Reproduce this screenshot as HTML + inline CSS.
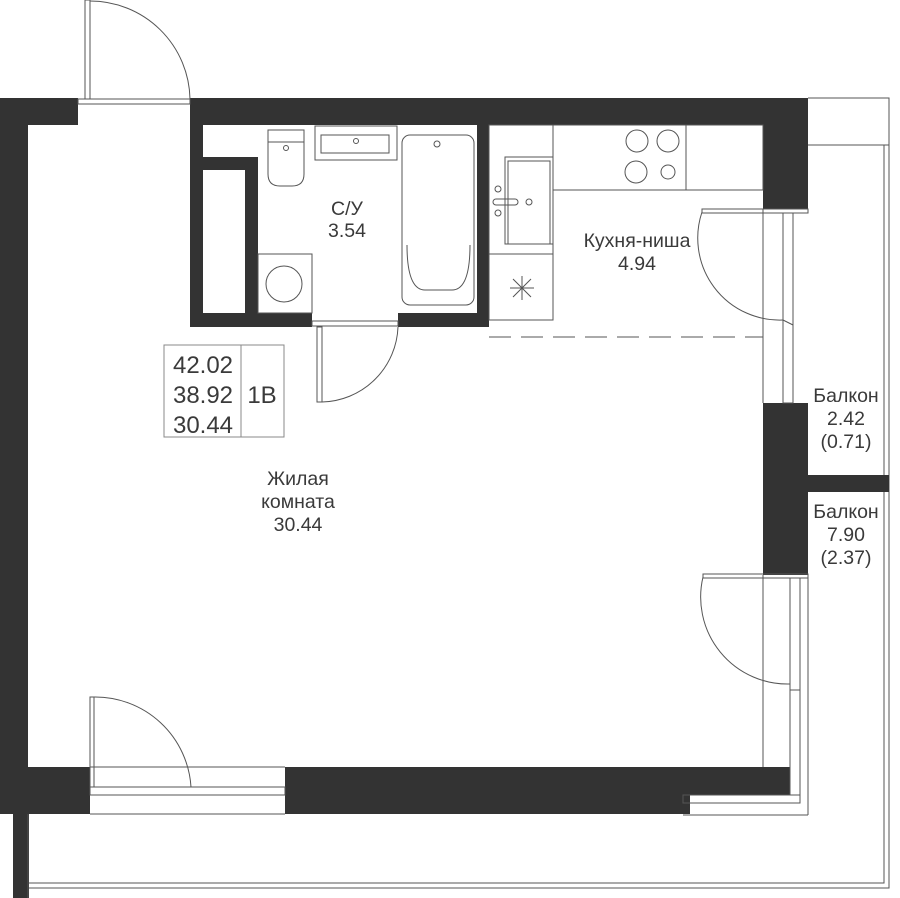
<!DOCTYPE html>
<html><head><meta charset="utf-8"><style>
html,body{margin:0;padding:0;background:#fff;}
svg{display:block}
text{font-family:"Liberation Sans",sans-serif;fill:#3a3a3a;font-size:19.5px;text-anchor:middle}
</style></head><body>
<svg width="900" height="898" viewBox="0 0 900 898" xmlns="http://www.w3.org/2000/svg">
<g fill="none" stroke="#555" stroke-width="1">
<polyline points="808,98 889,98 889,888 28,888"/>
<polyline points="884,145 884,475"/>
<line x1="808" y1="145" x2="889" y2="145"/>
<polyline points="884,492 884,883 28,883"/>
<line x1="808" y1="815" x2="808" y2="575"/>
</g>
<g fill="#333">
<rect x="0" y="98" width="78" height="27"/>
<rect x="190" y="98" width="618" height="27"/>
<rect x="0" y="98" width="28" height="716"/>
<rect x="13" y="814" width="16" height="84"/>
<rect x="0" y="767" width="90" height="47"/>
<rect x="285" y="767" width="505" height="28"/>
<rect x="285" y="795" width="405" height="19"/>
<rect x="763" y="98" width="45" height="111"/>
<rect x="763" y="403" width="45" height="172"/>
<rect x="808" y="475" width="81" height="17"/>
<rect x="190" y="125" width="13" height="202"/>
<rect x="190" y="313" width="122" height="14"/>
<rect x="398" y="313" width="91" height="14"/>
<rect x="477" y="125" width="12" height="195"/>
<rect x="203" y="157" width="55" height="13"/>
<rect x="245" y="157" width="13" height="156"/>
</g>
<g fill="none" stroke="#555" stroke-width="1">
<rect x="78" y="99" width="112" height="5"/>
<rect x="85" y="0" width="5" height="99"/>
<path d="M90,1 A100,100 0 0 1 190,99"/>
<rect x="312" y="321" width="86" height="5"/>
<rect x="317" y="327" width="5" height="75"/>
<path d="M322,402 A78,78 0 0 0 398,327"/>
<rect x="258" y="254" width="54" height="59"/>
<circle cx="284" cy="284" r="18"/>
<path d="M268,130 H304 V174 Q304,186 292,186 H280 Q268,186 268,174 Z"/>
<line x1="268" y1="142" x2="304" y2="142"/>
<circle cx="286" cy="148" r="2.5"/>
<rect x="315" y="126" width="82" height="34"/>
<rect x="321" y="135" width="68" height="18"/>
<circle cx="356" cy="141" r="2.5"/>
<rect x="402" y="135" width="72" height="170" rx="8"/>
<path d="M407,245 Q407,290 425,290 H452 Q470,290 470,245"/>
<circle cx="437" cy="144" r="3"/>
<rect x="489" y="125" width="64" height="195"/>
<line x1="489" y1="254" x2="553" y2="254"/>
<rect x="505" y="157" width="48" height="87"/>
<rect x="508" y="161" width="42" height="83"/>
<rect x="493" y="199" width="25" height="6" rx="3"/>
<circle cx="498" cy="189" r="3"/><circle cx="498" cy="213" r="3"/><circle cx="529" cy="202" r="3"/>
<path d="M510,288 h24 M522,276 v24 M513,279 l18,18 M531,279 l-18,18"/>
<rect x="553" y="125" width="210" height="65"/>
<line x1="686" y1="125" x2="686" y2="190"/>
<circle cx="637" cy="141" r="11"/><circle cx="668" cy="141" r="11"/>
<circle cx="636" cy="172" r="11"/><circle cx="668" cy="172" r="7"/>
<line x1="489" y1="337" x2="763" y2="337" stroke-dasharray="22,10"/>
<rect x="702" y="209" width="106" height="4"/>
<path d="M702,212 A82,82 0 0 0 783,320"/>
<line x1="763" y1="209" x2="763" y2="403"/>
<rect x="783" y="213" width="10" height="190"/>
<line x1="783" y1="320" x2="793" y2="325"/>
<rect x="703" y="574" width="105" height="4"/>
<path d="M703,577 A87,87 0 0 0 790,684"/>
<line x1="763" y1="575" x2="763" y2="767"/>
<rect x="790" y="578" width="10" height="217"/>
<line x1="790" y1="690" x2="800" y2="690"/>
<rect x="683" y="795" width="117" height="8"/>
<line x1="683" y1="815" x2="808" y2="815"/>
<rect x="90" y="787" width="195" height="8"/>
<rect x="90" y="697" width="4" height="90"/>
<path d="M94,697 A96,96 0 0 1 191,787"/>
<line x1="90" y1="767" x2="285" y2="767"/>
<line x1="90" y1="814" x2="285" y2="814"/>
<line x1="28" y1="814" x2="28" y2="898"/>
<rect x="164" y="345" width="120" height="92" stroke="#888"/>
<line x1="241" y1="345" x2="241" y2="437" stroke="#888"/>
</g>
<text x="347" y="215">С/У</text>
<text x="347" y="237">3.54</text>
<text x="637" y="247">Кухня-ниша</text>
<text x="637" y="270">4.94</text>
<text x="846" y="402">Балкон</text>
<text x="846" y="425">2.42</text>
<text x="846" y="448">(0.71)</text>
<text x="846" y="518">Балкон</text>
<text x="846" y="541">7.90</text>
<text x="846" y="564">(2.37)</text>
<text x="298" y="485">Жилая</text>
<text x="298" y="508">комната</text>
<text x="298" y="531">30.44</text>
<text x="203" y="373" style="font-size:24px">42.02</text>
<text x="203" y="403" style="font-size:24px">38.92</text>
<text x="203" y="433" style="font-size:24px">30.44</text>
<text x="262" y="403" style="font-size:24px">1В</text>
</svg>
</body></html>
